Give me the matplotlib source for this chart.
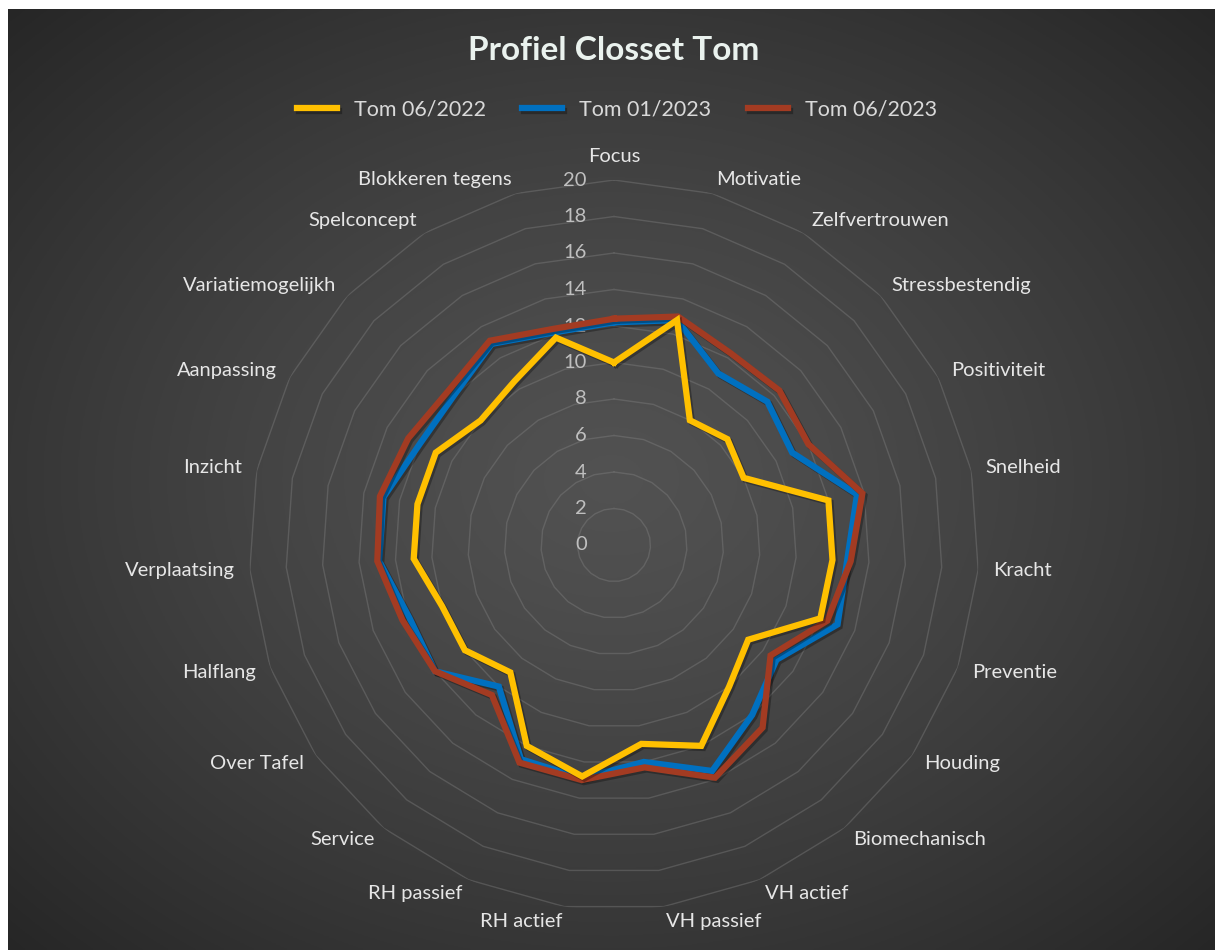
import numpy as np
import matplotlib
matplotlib.use('Agg')
import matplotlib.pyplot as plt
import matplotlib.patheffects as pe

plt.rcParams['font.family'] = ['Lato', 'DejaVu Sans']

# data
categories = ['Focus', 'Motivatie', 'Zelfvertrouwen', 'Stressbestendig', 'Positiviteit',
              'Snelheid', 'Kracht', 'Preventie', 'Houding', 'Biomechanisch', 'VH actief',
              'VH passief', 'RH actief', 'RH passief', 'Service', 'Over Tafel', 'Halflang',
              'Verplaatsing', 'Inzicht', 'Aanpassing', 'Variatiemogelijkh', 'Spelconcept',
              'Blokkeren tegens']
tom_2206 = [10, 12.8, 8, 8.5, 8, 12, 12, 12, 9, 10, 12, 11, 12.8, 12, 9, 10, 10,
            11, 11, 11, 10, 10.5, 11.8]
tom_2301 = [12.2, 12.8, 11, 11.5, 11, 13.6, 12.8, 13, 10.9, 12, 13.5, 12, 12.9, 12.8,
            10, 12, 11.9, 12.9, 12.9, 12, 12, 12.9, 12.1]
tom_2306 = [12.4, 13, 12.3, 12.4, 12, 13.9, 13, 12.4, 10.5, 12.9, 13.9, 12.3, 13, 13,
            10.6, 12, 12.3, 13, 13.1, 12.7, 12.4, 13.1, 12.3]
series_names = ['Tom 06/2022', 'Tom 01/2023', 'Tom 06/2023']
colors = ['#FFC000', '#0070C0', '#A33B22']
rings = list(range(0, 21, 2))

W, H = 1215, 950
fig = plt.figure(figsize=(W / 100, H / 100), dpi=100)
fig.patch.set_facecolor('white')

# radial gradient background
bg = fig.add_axes([8 / W, 0, 1 - 8 / W, 1 - 9 / H])
yy, xx = np.mgrid[-1:1:400j, -1:1:500j]
dist = np.sqrt(xx ** 2 + yy ** 2) / np.sqrt(2)
shade = 0.32 - 0.17 * dist ** 1.3
bg.imshow(np.dstack([shade, shade, shade]), aspect='auto', extent=[0, 1, 0, 1])
bg.set_axis_off()

cx, cy, rad = 614, 545, 365
ax = fig.add_axes([(cx - rad) / W, (H - cy - rad) / H, 2 * rad / W, 2 * rad / H],
                  projection='polar')
ax.set_facecolor('none')
ax.set_theta_zero_location('N')
ax.set_theta_direction(-1)
ax.set_ylim(0, 20)
ax.grid(False)
ax.spines['polar'].set_visible(False)
ax.set_xticks([])
ax.set_yticks([])

n = len(categories)
angles = np.linspace(0, 2 * np.pi, n, endpoint=False)
closed = np.append(angles, angles[0])

for r in rings[1:]:
    ax.plot(closed, [r] * (n + 1), color='#8a8a8a', alpha=0.35, lw=1, zorder=1)

for r in rings:
    ax.annotate(str(r), (0, r), xytext=(-27, 0), textcoords='offset pixels',
                ha='right', va='center', color='#bfbfbf', fontsize=14.5, zorder=2)

shadow = [pe.SimpleLineShadow(offset=(1.5, -1.5), shadow_color='black', alpha=0.3), pe.Normal()]
zorders = [5, 3, 4]
for vals, name, c, z in zip([tom_2206, tom_2301, tom_2306], series_names, colors, zorders):
    ax.plot(closed, vals + vals[:1], color=c, lw=4.5, label=name, zorder=z,
            path_effects=shadow, solid_joinstyle='miter')

for a, lab in zip(angles, categories):
    deg = np.degrees(a)
    if abs(deg) < 1:
        ha, va = 'center', 'bottom'
    elif deg < 180:
        ha, va = 'left', 'center'
    else:
        ha, va = 'right', 'center'
    ax.text(a, 20.8, lab, ha=ha, va=va, color='#e6e6e6', fontsize=14.5)

fig.text(614 / W, 1 - 51 / H, 'Profiel Closset Tom', ha='center', va='center',
         color='#eaf2ee', fontsize=24, fontweight='bold')

handles, labels = ax.get_legend_handles_labels()
fig.legend(handles, labels, loc='center', bbox_to_anchor=(617 / W, 1 - 110 / H), ncol=3,
           frameon=False, fontsize=15.5, labelcolor='#d9d9d9', handlelength=1.85,
           handletextpad=0.8, columnspacing=1.7)

fig.savefig('out.png', dpi=100)
